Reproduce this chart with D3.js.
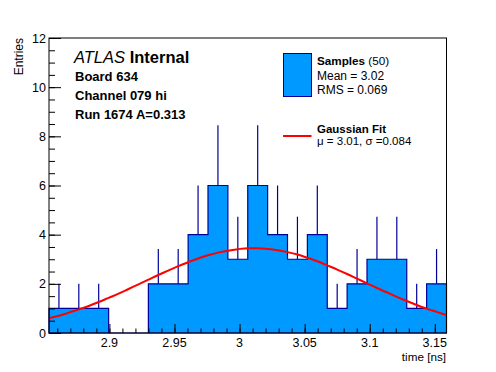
<!DOCTYPE html>
<html>
<head>
<meta charset="utf-8">
<script src="https://cdn.jsdelivr.net/npm/d3@7"></script>
<style>
  body { margin: 0; background: #fff; }
  text { font-family: "Liberation Sans", Arial, sans-serif; }
</style>
</head>
<body>
<div id="chart"></div>
<script>
// histogram range and bin contents (20 bins)
var xRange = [2.8536, 3.159];
var binCounts = [1, 1, 1, 0, 0, 2, 2, 4, 6, 3, 6, 4, 3, 4, 1, 2, 3, 3, 1, 2];

// axis ticks
var xMajorTicks = [2.9, 2.95, 3, 3.05, 3.1, 3.15];
var yMajorTicks = [0, 2, 4, 6, 8, 10, 12];

// fitted gaussian, 41 points evenly over the x range
var fitValues = [0.60, 0.70, 0.83, 0.96, 1.10, 1.26, 1.43, 1.60, 1.79, 1.98,
  2.17, 2.36, 2.54, 2.72, 2.88, 3.03, 3.16, 3.27, 3.35, 3.41,
  3.45, 3.45, 3.42, 3.37, 3.29, 3.19, 3.06, 2.92, 2.75, 2.58,
  2.40, 2.21, 2.02, 1.83, 1.65, 1.47, 1.30, 1.14, 0.99, 0.86, 0.73];

var labelLines = ["Board 634", "Channel 079 hi", "Run 1674 A=0.313"];

var svgWidth = 496;
var svgHeight = 372;
var margin = { top: 38, right: 50, bottom: 39, left: 49 };
var width = 446.5 - margin.left;
var height = 333 - margin.top;

var fillColor = "#0099ff";
var lineColor = "#000099";

var svg = d3.select("#chart")
  .append("svg")
  .attr("width", svgWidth)
  .attr("height", svgHeight);

var g = svg.append("g")
  .attr("transform", `translate(${margin.left}, ${margin.top})`);

var x = d3.scaleLinear().domain(xRange).range([0, width]);
var y = d3.scaleLinear().domain([0, 12]).range([height, 0]);

var binWidth = (xRange[1] - xRange[0]) / binCounts.length;

// step outline of the histogram
var pts = [[x(xRange[0]), y(0)]];
binCounts.forEach(function(c, i) {
  var x0 = x(xRange[0] + i * binWidth);
  var x1 = x(xRange[0] + (i + 1) * binWidth);
  pts.push([x0, y(c)]);
  pts.push([x1, y(c)]);
});
pts.push([x(xRange[1]), y(0)]);

g.append("path")
  .attr("d", "M" + pts.map(p => p.join(",")).join("L") + "Z")
  .attr("fill", fillColor)
  .attr("stroke", lineColor)
  .attr("stroke-width", 1.2);

// error bars (upper part, sqrt(N))
g.append("g").selectAll("line")
  .data(binCounts.map((c, i) => ({ c: c, i: i })).filter(d => d.c > 0))
  .enter()
  .append("line")
  .attr("x1", d => x(xRange[0] + (d.i + 0.5) * binWidth))
  .attr("x2", d => x(xRange[0] + (d.i + 0.5) * binWidth))
  .attr("y1", d => y(d.c))
  .attr("y2", d => y(d.c + Math.sqrt(d.c)))
  .attr("stroke", lineColor)
  .attr("stroke-width", 1.2);

// gaussian fit
var fitStep = (xRange[1] - xRange[0]) / (fitValues.length - 1);
var fitLine = d3.line()
  .x((d, i) => x(xRange[0] + i * fitStep))
  .y(d => y(d))
  .curve(d3.curveMonotoneX);

g.append("path")
  .datum(fitValues)
  .attr("d", fitLine)
  .attr("fill", "none")
  .attr("stroke", "#ff0000")
  .attr("stroke-width", 2);

// frame
g.append("rect")
  .attr("width", width)
  .attr("height", height)
  .attr("fill", "none")
  .attr("stroke", "#000")
  .attr("stroke-width", 1);

// x axis
var xMinor = d3.range(2.86, 3.155, 0.01).map(v => +v.toFixed(2));
var xAxisG = g.append("g").attr("transform", `translate(0, ${height})`);
xAxisG.call(d3.axisTop(x).tickValues(xMinor).tickSize(4.5).tickFormat(""));
xAxisG.append("g").call(d3.axisTop(x).tickValues(xMajorTicks).tickSize(9).tickFormat(""));
xAxisG.selectAll(".domain").remove();
xAxisG.selectAll("line").attr("stroke", "#000");

g.append("g").selectAll("text")
  .data(xMajorTicks)
  .enter()
  .append("text")
  .attr("x", d => x(d))
  .attr("y", height + 13.5)
  .attr("text-anchor", "middle")
  .attr("font-size", "12.5px")
  .text(d => d);

// y axis
var yMinor = d3.range(0, 12.01, 0.5);
var yAxisG = g.append("g");
yAxisG.call(d3.axisRight(y).tickValues(yMinor).tickSize(6).tickFormat(""));
yAxisG.append("g").call(d3.axisRight(y).tickValues(yMajorTicks).tickSize(12).tickFormat(""));
yAxisG.selectAll(".domain").remove();
yAxisG.selectAll("line").attr("stroke", "#000");

g.append("g").selectAll("text")
  .data(yMajorTicks)
  .enter()
  .append("text")
  .attr("x", -3)
  .attr("y", d => y(d) + 4.5)
  .attr("text-anchor", "end")
  .attr("font-size", "12.5px")
  .text(d => d);

// axis titles
svg.append("text")
  .attr("x", 446)
  .attr("y", 360.5)
  .attr("text-anchor", "end")
  .attr("font-size", "11.7px")
  .text("time [ns]");

svg.append("text")
  .attr("transform", "translate(23, 38) rotate(-90)")
  .attr("text-anchor", "end")
  .attr("font-size", "12px")
  .text("Entries");

// ATLAS label block
var atlas = svg.append("text")
  .attr("x", 74)
  .attr("y", 63)
  .attr("font-size", "16.5px");
atlas.append("tspan").attr("font-style", "italic").text("ATLAS");
atlas.append("tspan").attr("font-weight", "bold").text(" Internal");

svg.append("g").selectAll("text")
  .data(labelLines)
  .enter()
  .append("text")
  .attr("x", 75)
  .attr("y", (d, i) => 81 + i * 19.2)
  .attr("font-size", "13px")
  .attr("font-weight", "bold")
  .text(d => d);

// legend
var leg = svg.append("g");
leg.append("rect")
  .attr("x", 283.5)
  .attr("y", 53.5)
  .attr("width", 28)
  .attr("height", 43)
  .attr("fill", fillColor)
  .attr("stroke", lineColor)
  .attr("stroke-width", 1);

var t1 = leg.append("text").attr("x", 317).attr("y", 65).attr("font-size", "11.7px");
t1.append("tspan").attr("font-weight", "bold").text("Samples");
t1.append("tspan").text(" (50)");
leg.append("text").attr("x", 317).attr("y", 79.5).attr("font-size", "12px").text("Mean = 3.02");
leg.append("text").attr("x", 317).attr("y", 93.5).attr("font-size", "12px").text("RMS = 0.069");

leg.append("line")
  .attr("x1", 283).attr("x2", 311.5)
  .attr("y1", 136).attr("y2", 136)
  .attr("stroke", "#ff0000")
  .attr("stroke-width", 2);
leg.append("text").attr("x", 317).attr("y", 133.3).attr("font-size", "11.5px")
  .attr("font-weight", "bold").text("Gaussian Fit");
leg.append("text").attr("x", 317).attr("y", 145).attr("font-size", "11.5px")
  .text("\u03bc = 3.01, \u03c3 =0.084");
</script>
</body>
</html>
